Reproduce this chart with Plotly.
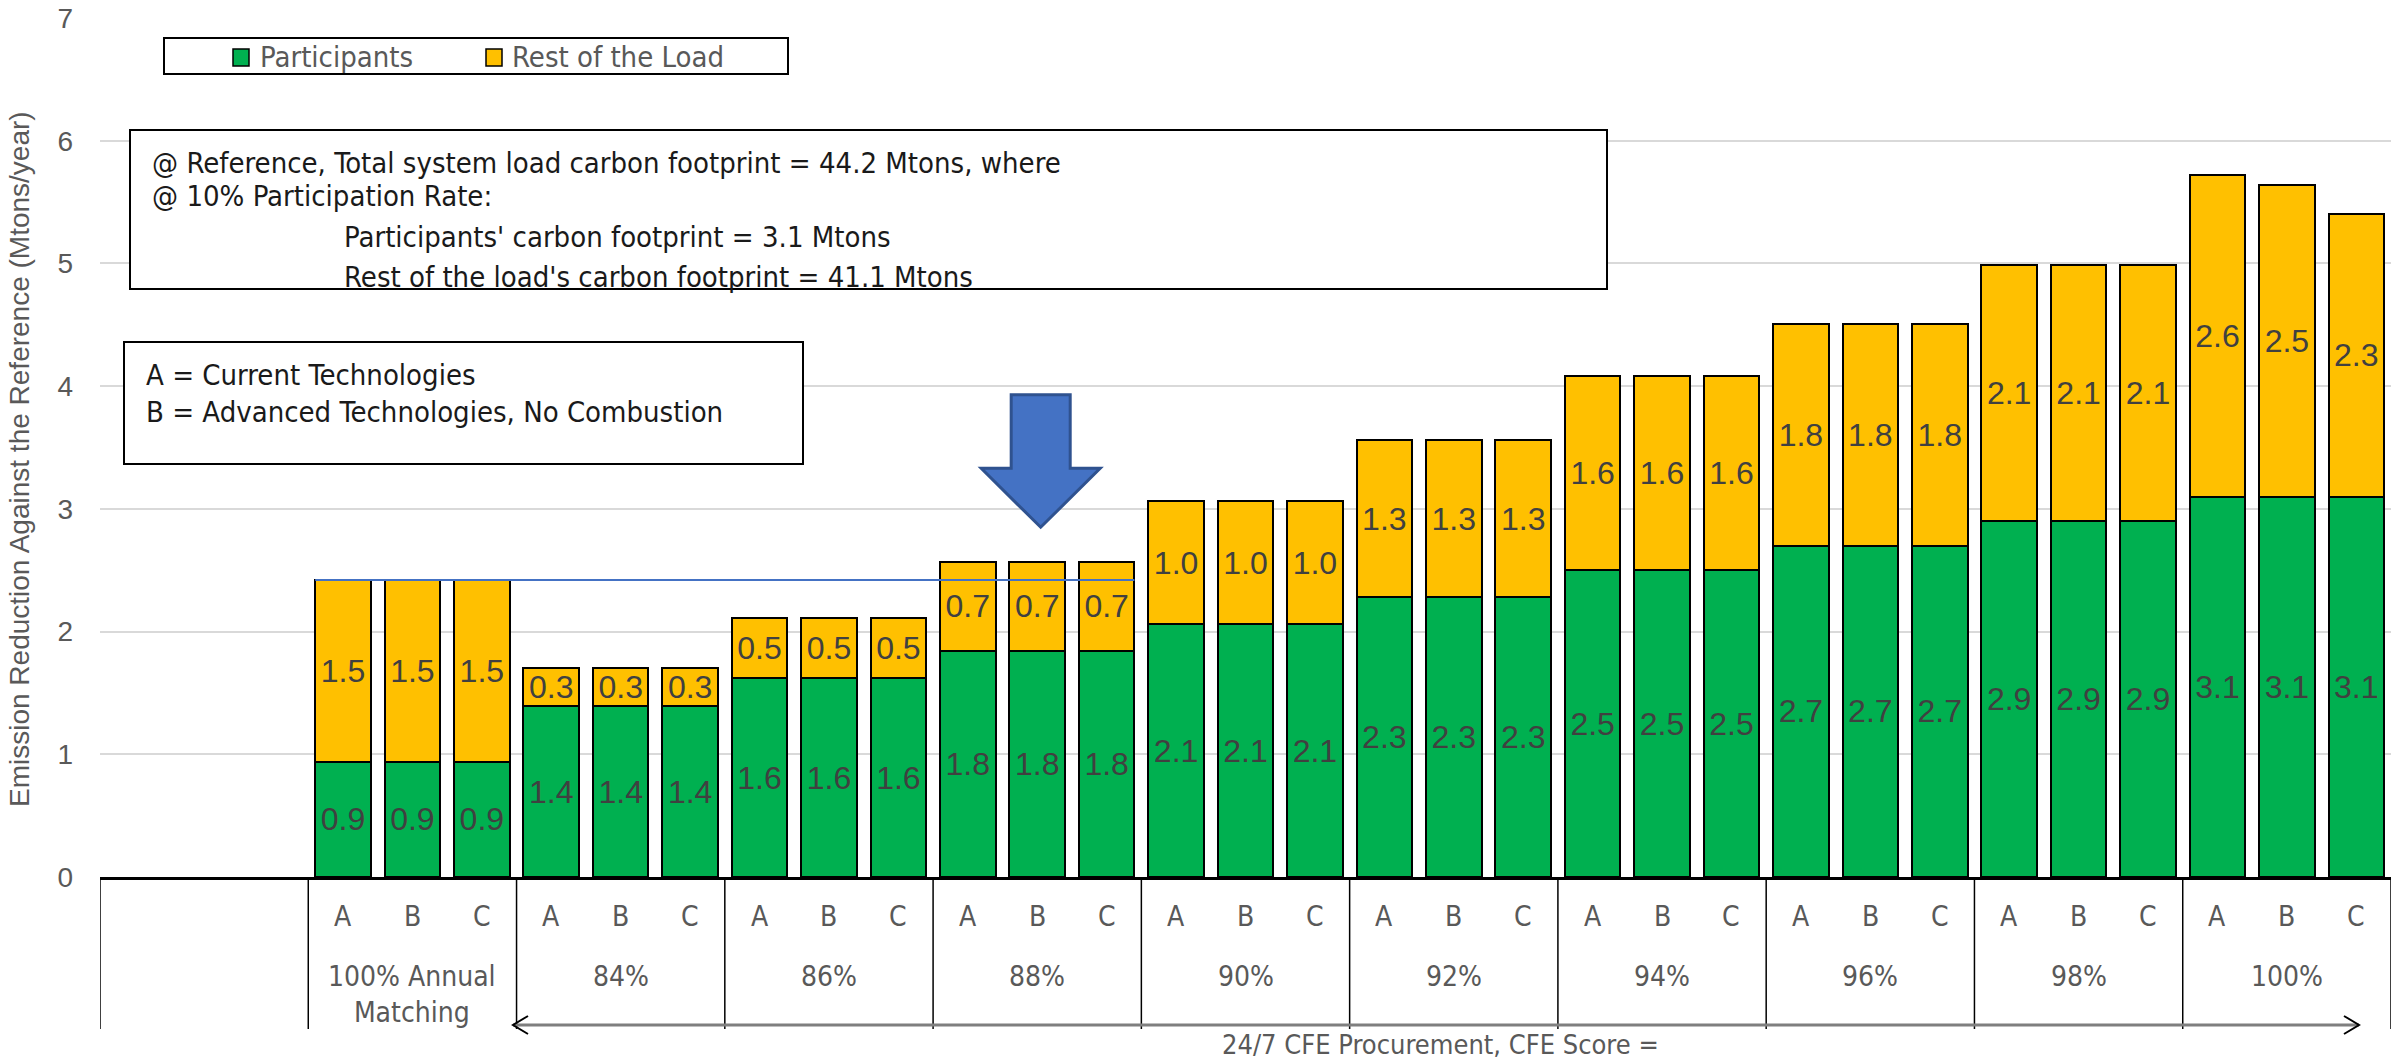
import plotly.graph_objects as go

# ---------------- data ----------------
groups = ["100% Annual<br>Matching", "84%", "86%", "88%", "90%", "92%", "94%", "96%", "98%", "100%"]
subcats = ["A", "B", "C"]
participants = [0.94, 0.94, 0.94, 1.39, 1.39, 1.39, 1.62, 1.62, 1.62, 1.84, 1.84, 1.84,
                2.06, 2.06, 2.06, 2.28, 2.28, 2.28, 2.50, 2.50, 2.50, 2.70, 2.70, 2.70,
                2.90, 2.90, 2.90, 3.10, 3.10, 3.10]
rest_of_load = [1.48, 1.48, 1.48, 0.31, 0.31, 0.31, 0.49, 0.49, 0.49, 0.73, 0.73, 0.73,
                1.00, 1.00, 1.00, 1.28, 1.28, 1.28, 1.58, 1.58, 1.58, 1.81, 1.81, 1.81,
                2.09, 2.09, 2.09, 2.62, 2.54, 2.30]
series_names = ["Participants", "Rest of the Load"]
y_ticks = [0, 1, 2, 3, 4, 5, 6, 7]
y_title = "Emission Reduction Against the Reference (Mtons/year)"
axis_caption = "24/7 CFE Procurement, CFE Score ="
box1_lines = ["@ Reference, Total system load carbon footprint = 44.2 Mtons, where",
              "@ 10% Participation Rate:",
              "Participants' carbon footprint = 3.1 Mtons",
              "Rest of the load's carbon footprint = 41.1 Mtons"]
box2_lines = ["A = Current Technologies",
              "B = Advanced Technologies, No Combustion"]

# ---------------- layout constants ----------------
W, H = 2399, 1061
L, R, T, B = 100, 8, 18, 184
PW, PH = W - L - R, H - T - B
N_EMPTY = 3
GREEN, YELLOW = "#00B050", "#FFC000"
GRAY = "#595959"
NARROW = "Liberation Sans Narrow, Arial Narrow, DejaVu Sans Condensed, Roboto Condensed, sans-serif"
REG = "Liberation Sans, Arial, sans-serif"

def px_x(p):
    return (p - L) / PW

def px_y(p):
    return (T + PH - p) / PH

n = len(participants)
xpos = [N_EMPTY + i for i in range(n)]
sub_labels = [subcats[i % 3] for i in range(n)]

fig = go.Figure()
for name, vals, col in [(series_names[0], participants, GREEN), (series_names[1], rest_of_load, YELLOW)]:
    fig.add_trace(go.Bar(
        x=xpos, y=vals, name=name, marker=dict(color=col, line=dict(color="black", width=2)),
        texttemplate="%{y:.1f}", textposition="inside", insidetextanchor="middle",
        textangle=0, constraintext="none",
        textfont=dict(family=REG, size=32, color="#404040"), showlegend=False,
    ))

shapes = []
annotations = []

# horizontal blue reference line at the annual matching total
ref_total = participants[0] + rest_of_load[0]
shapes.append(dict(type="line", xref="x", yref="y", x0=xpos[0] - 0.4, x1=xpos[11] + 0.4,
                   y0=ref_total, y1=ref_total, line=dict(color="#4472C4", width=2), layer="above"))

# blue down arrow above 88% B
cx = xpos[10] + 0.05
sw, hw = 0.425, 0.857
ytop, ybase, ytip = 3.93, 3.33, 2.85
path = (f"M {cx - sw},{ytop} L {cx + sw},{ytop} L {cx + sw},{ybase} L {cx + hw},{ybase} "
        f"L {cx},{ytip} L {cx - hw},{ybase} L {cx - sw},{ybase} Z")
shapes.append(dict(type="path", xref="x", yref="y", path=path, fillcolor="#4472C4",
                   line=dict(color="#2F528F", width=3), layer="above"))

# category table below axis
div_y1 = px_y(1029)
for g in range(len(groups) + 2):
    xd = -0.5 + (0 if g == 0 else N_EMPTY + 3 * (g - 1))
    shapes.append(dict(type="line", xref="x", yref="paper", x0=xd, x1=xd, y0=0, y1=div_y1,
                       line=dict(color="black", width=1.5)))
for x, s in zip(xpos, sub_labels):
    annotations.append(dict(x=x, y=px_y(917), xref="x", yref="paper", text=s, showarrow=False,
                            xanchor="center", yanchor="middle",
                            font=dict(family=NARROW, size=28, color=GRAY)))
for gi, g in enumerate(groups):
    gx = N_EMPTY + 3 * gi + 1
    annotations.append(dict(x=gx, y=px_y(958), xref="x", yref="paper", text=g, showarrow=False,
                            xanchor="center", yanchor="top",
                            font=dict(family=NARROW, size=28, color=GRAY)))

# double-headed arrow
ay = px_y(1025)
xa0, xa1 = px_x(513), px_x(2359)
shapes.append(dict(type="line", xref="paper", yref="paper", x0=xa0, x1=xa1, y0=ay, y1=ay,
                   line=dict(color="#7F7F7F", width=3)))
dx, dy = 15 / PW, 9 / PH
shapes.append(dict(type="path", xref="paper", yref="paper",
                   path=f"M {xa0 + dx},{ay + dy} L {xa0},{ay} L {xa0 + dx},{ay - dy}",
                   line=dict(color="black", width=2)))
shapes.append(dict(type="path", xref="paper", yref="paper",
                   path=f"M {xa1 - dx},{ay + dy} L {xa1},{ay} L {xa1 - dx},{ay - dy}",
                   line=dict(color="black", width=2)))
annotations.append(dict(x=px_x(1440), y=px_y(1044), xref="paper", yref="paper", text=axis_caption,
                        showarrow=False, xanchor="center", yanchor="middle",
                        font=dict(family=NARROW, size=27, color=GRAY)))

# legend box
shapes.append(dict(type="rect", xref="paper", yref="paper", x0=px_x(164), x1=px_x(788),
                   y0=px_y(38), y1=px_y(74), line=dict(color="black", width=2), fillcolor="white"))
for sx, tx, col, name in [(233, 258, GREEN, series_names[0]), (486, 510, YELLOW, series_names[1])]:
    shapes.append(dict(type="rect", xref="paper", yref="paper", x0=px_x(sx), x1=px_x(sx + 16),
                       y0=px_y(49), y1=px_y(66), fillcolor=col, line=dict(color="black", width=1.5)))
    annotations.append(dict(x=px_x(tx), y=px_y(57), xref="paper", yref="paper", text=name,
                            showarrow=False, xanchor="left", yanchor="middle",
                            font=dict(family=NARROW, size=29, color=GRAY)))

# text box 1
shapes.append(dict(type="rect", xref="paper", yref="paper", x0=px_x(130), x1=px_x(1607),
                   y0=px_y(130), y1=px_y(289), line=dict(color="black", width=2), fillcolor="white"))
for (lx, ly), txt in zip([(150, 163), (150, 196), (342, 237), (342, 277)], box1_lines):
    annotations.append(dict(x=px_x(lx), y=px_y(ly), xref="paper", yref="paper", text=txt,
                            showarrow=False, xanchor="left", yanchor="middle",
                            font=dict(family=NARROW, size=29, color="#1a1a1a")))

# text box 2
shapes.append(dict(type="rect", xref="paper", yref="paper", x0=px_x(124), x1=px_x(803),
                   y0=px_y(342), y1=px_y(464), line=dict(color="black", width=2), fillcolor="white"))
for (lx, ly), txt in zip([(144, 375), (144, 412)], box2_lines):
    annotations.append(dict(x=px_x(lx), y=px_y(ly), xref="paper", yref="paper", text=txt,
                            showarrow=False, xanchor="left", yanchor="middle",
                            font=dict(family=NARROW, size=29, color="#1a1a1a")))

# y title
annotations.append(dict(x=px_x(20), y=px_y(459), xref="paper", yref="paper", text=y_title,
                        showarrow=False, textangle=-90, xanchor="center", yanchor="middle",
                        font=dict(family=REG, size=28, color=GRAY)))

fig.update_layout(
    width=W, height=H, margin=dict(l=L, r=R, t=T, b=B, autoexpand=False),
    barmode="stack", bargap=0.2, plot_bgcolor="white", paper_bgcolor="white",
    xaxis=dict(range=[-0.5, N_EMPTY + n - 0.5], showticklabels=False, showgrid=False,
               zeroline=False, showline=True, linecolor="black", linewidth=3, ticks=""),
    yaxis=dict(range=[0, 7], tickvals=y_ticks, showgrid=True, gridcolor="#D9D9D9", gridwidth=2,
               zeroline=False, ticks="", ticklabelstandoff=26,
               tickfont=dict(family=REG, size=28, color=GRAY)),
    shapes=shapes, annotations=annotations, showlegend=False,
)
fig.write_html("out.html")
